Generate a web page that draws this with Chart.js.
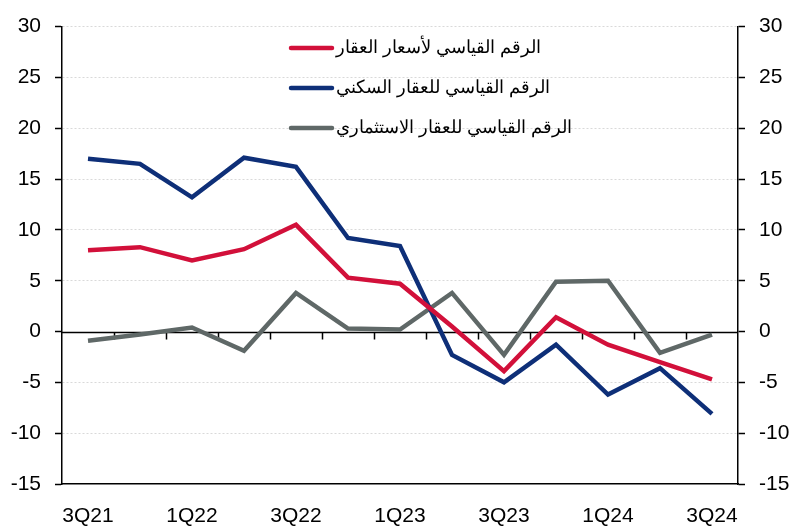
<!DOCTYPE html>
<html lang="ar">
<head>
<meta charset="UTF-8">
<title>الرقم القياسي لأسعار العقار</title>
<script src="https://cdn.jsdelivr.net/npm/chart.js"></script>
<style>
    body { margin: 0; background: #fff; }
    #wrap { width: 800px; height: 532px; }
</style>
</head>
<body>
<div id="wrap"><canvas id="grafico"></canvas></div>
<script>
    // datos
    const quarters = ['3Q21', '4Q21', '1Q22', '2Q22', '3Q22', '4Q22', '1Q23', '2Q23', '3Q23', '4Q23', '1Q24', '2Q24', '3Q24'];
    const seriesNames = ['الرقم القياسي لأسعار العقار', 'الرقم القياسي للعقار السكني', 'الرقم القياسي للعقار الاستثماري'];
    const priceIndex = [8.0, 8.3, 7.0, 8.1, 10.5, 5.3, 4.7, 0.5, -3.9, 1.4, -1.3, -3.0, -4.7];
    const residential = [17.0, 16.5, 13.2, 17.1, 16.2, 9.2, 8.4, -2.3, -5.0, -1.3, -6.2, -3.6, -8.1];
    const investment = [-0.9, -0.3, 0.4, -1.9, 3.8, 0.3, 0.2, 3.8, -2.3, 4.9, 5.0, -2.1, -0.3];
    const yTicks = [-15, -10, -5, 0, 5, 10, 15, 20, 25, 30];
    const colors = ['#D2103A', '#0E2F78', '#5F6867'];

    const FONT = '"Liberation Sans", Arial, sans-serif';

    // linea del cero con marcas entre trimestres
    const zeroLine = {
        id: 'zeroLine',
        beforeDatasetsDraw(chart) {
            const { ctx, chartArea, scales } = chart;
            const y0 = Math.round(scales.y.getPixelForValue(0)) + 0.5;
            ctx.save();
            ctx.strokeStyle = '#000';
            ctx.lineWidth = 1.5;
            ctx.beginPath();
            ctx.moveTo(chartArea.left, y0);
            ctx.lineTo(chartArea.right, y0);
            for (let i = 0; i < quarters.length - 1; i++) {
                const x = Math.round((scales.x.getPixelForValue(i) + scales.x.getPixelForValue(i + 1)) / 2) + 0.5;
                ctx.moveTo(x, y0);
                ctx.lineTo(x, y0 + 7);
            }
            ctx.stroke();
            ctx.restore();
        }
    };

    // leyenda vertical
    const legendBox = {
        id: 'legendBox',
        afterDraw(chart) {
            const ctx = chart.ctx;
            ctx.save();
            ctx.font = '18px ' + FONT;
            ctx.textBaseline = 'middle';
            ctx.textAlign = 'left';
            seriesNames.forEach((name, i) => {
                const y = 48 + i * 40;
                ctx.strokeStyle = colors[i];
                ctx.lineWidth = 4.5;
                ctx.lineCap = 'round';
                ctx.beginPath();
                ctx.moveTo(291, y);
                ctx.lineTo(332, y);
                ctx.stroke();
                ctx.fillStyle = '#000';
                ctx.fillText(name, 336, y);
            });
            ctx.restore();
        }
    };

    const yAxis = (pos) => ({
        type: 'linear',
        position: pos,
        min: -15,
        max: 30,
        afterBuildTicks: (scale) => { scale.ticks = yTicks.map(v => ({ value: v })); },
        afterFit: (scale) => { scale.width = 62; },
        ticks: { color: '#000', font: { family: FONT, size: 21 }, padding: 14 },
        grid: {
            drawOnChartArea: pos === 'left',
            color: (c) => (c.tick && (c.tick.value === 0 || c.tick.value === -15)) ? 'rgba(0,0,0,0)' : '#d9d9d9',
            tickColor: '#000',
            tickLength: 7,
            tickWidth: 1.5
        },
        border: { display: true, color: '#000', width: 1.5, dash: [2, 2] }
    });

    new Chart(document.getElementById('grafico'), {
        type: 'line',
        data: {
            labels: quarters,
            datasets: [priceIndex, residential, investment].map((d, i) => ({
                label: seriesNames[i],
                data: d,
                borderColor: colors[i],
                backgroundColor: colors[i],
                borderWidth: 4.5,
                pointRadius: 0,
                tension: 0
            }))
        },
        options: {
            responsive: true,
            maintainAspectRatio: false,
            devicePixelRatio: 1,
            animation: false,
            layout: { padding: { top: 25, left: 0, right: 0, bottom: 0 } },
            plugins: { legend: { display: false }, tooltip: { enabled: false } },
            scales: {
                x: {
                    offset: true,
                    afterFit: (scale) => { scale.height = 48; },
                    grid: { display: false, drawTicks: false },
                    border: { display: true, color: '#000', width: 1.5 },
                    ticks: {
                        color: '#000',
                        font: { family: FONT, size: 21 },
                        padding: 20,
                        maxRotation: 0,
                        autoSkip: false,
                        callback: (v, i) => i % 2 === 0 ? quarters[i] : ''
                    }
                },
                y: yAxis('left'),
                y2: yAxis('right')
            }
        },
        plugins: [zeroLine, legendBox]
    });
</script>
</body>
</html>
